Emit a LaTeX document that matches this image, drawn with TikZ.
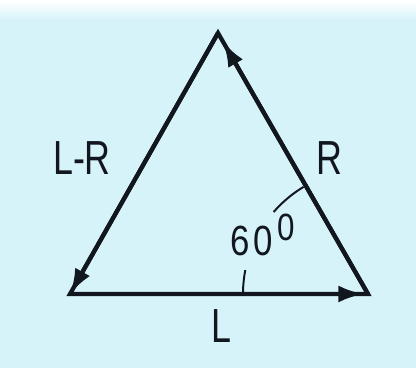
\documentclass[tikz,border=0pt]{standalone}
\usepackage{fontspec}
\setmainfont{Liberation Sans}
\usetikzlibrary{arrows.meta}

\tikzset{>={Latex[length=18pt,width=12pt]}}
\definecolor{bgcol}{RGB}{214,243,250}
\definecolor{inkcol}{RGB}{18,22,30}
\tikzstyle{vec}=[inkcol,line width=3pt,line join=miter]
\tikzstyle{lbl}=[inkcol,inner sep=0pt,xscale=0.75,font=\fontsize{34}{36}\selectfont]
\def\R{125} % radius of angle mark

\begin{document}
\begin{tikzpicture}[x=0.025cm,y=0.025cm]
  \useasboundingbox (0,0) rectangle (416,368);
  
  % BACKGROUND
  \fill[bgcol] (0,0) rectangle (416,348);
  \shade[top color=white,bottom color=bgcol] (0,348) rectangle (416,368);
  
  % TRIANGLE
  \coordinate (A) at (70,74);
  \coordinate (B) at (368,74);
  \coordinate (C) at (218,335);
  \draw[vec] (A) -- (B) -- (C) -- cycle;
  \draw[vec,->,shorten >=3pt] (A) -- (B);
  \draw[vec,->,shorten >=7pt] (B) -- (C);
  \draw[vec,->] (C) -- (A);
  
  % ANGLE
  \draw[inkcol,line width=1.4pt] (B) ++(121:\R) arc[start angle=121,end angle=139,radius=\R];
  \draw[inkcol,line width=1.4pt] (B) ++(169:\R) arc[start angle=169,end angle=180,radius=\R];
  
  % LABELS
  \node[lbl,anchor=base] (lr) at (82,193) {L-R};
  \node[lbl,anchor=base] (r) at (329,193) {R};
  \node[lbl,anchor=base] (l) at (221,25) {L};
  \node[lbl,anchor=base west,xscale=1.1,font=\fontsize{30}{32}\selectfont] (ang) at (230,112)
    {6\kern3pt0\kern4pt\raisebox{11pt}{\fontsize{27}{28}\selectfont 0}};
  
\end{tikzpicture}
\end{document}
